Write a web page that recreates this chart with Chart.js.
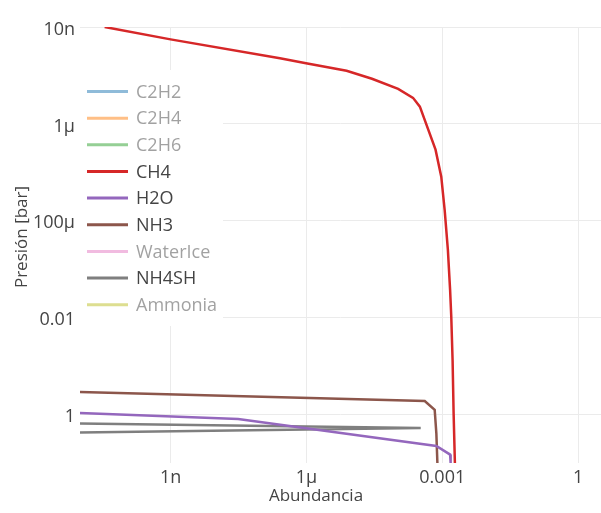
<!DOCTYPE html>
<html>
<head>
<meta charset="utf-8">
<script src="https://cdn.jsdelivr.net/npm/chart.js"></script>
<style>
  html, body { margin: 0; padding: 0; background: #fff; }
  #wrap { width: 601px; height: 513px; }
</style>
</head>
<body>
<div id="wrap"><canvas id="myChart" width="601" height="513"></canvas></div>
<script>
"use strict";
// species shown in the legend, in order
const species = ["C2H2", "C2H4", "C2H6", "CH4", "H2O", "NH3", "WaterIce", "NH4SH", "Ammonia"];
const speciesColors = ["#1f77b4", "#ff7f0e", "#2ca02c", "#d62728", "#9467bd", "#8c564b", "#e377c2", "#7f7f7f", "#bcbd22"];
const hiddenSpecies = ["C2H2", "C2H4", "C2H6", "WaterIce", "Ammonia"];

// abundance (x) and pressure in bar (y) for each profile
const ch4Abund = [3.5e-11, 1.0e-9, 2.6e-7, 9.8e-7, 7.7e-6, 2.8e-5, 1.06e-4, 2.26e-4, 3.2e-4, 7.1e-4, 9.5e-4, 1.13e-3, 1.33e-3, 1.49e-3, 1.58e-3, 1.69e-3, 1.78e-3, 1.90e-3];
const ch4Press = [1.0e-8, 1.8e-8, 4.4e-8, 5.6e-8, 8.0e-8, 1.17e-7, 1.9e-7, 2.9e-7, 4.4e-7, 3.4e-6, 1.23e-5, 6.0e-5, 4.0e-4, 2.7e-3, 9.6e-3, 0.0755, 0.94, 10];
const h2oAbund = [1e-11, 3.1e-8, 7.4e-4, 1.49e-3, 1.53e-3];
const h2oPress = [0.93, 1.24, 4.46, 6.7, 10];
const nh3Abund = [1e-11, 4.1e-4, 6.8e-4, 7.4e-4, 7.8e-4];
const nh3Press = [0.341, 0.524, 0.796, 2.44, 10];
const nh4shAbund = [1e-11, 3.34e-4, 1e-11];
const nh4shPress = [1.53, 1.89, 2.36];

const xTicks = [1e-9, 1e-6, 1e-3, 1];
const xTickLabels = ["1n", "1μ", "0.001", "1"];
const yTicks = [1e-8, 1e-6, 1e-4, 1e-2, 1];
const yTickLabels = ["10n", "1μ", "100μ", "0.01", "1"];

const profiles = {
  CH4: [ch4Abund, ch4Press],
  H2O: [h2oAbund, h2oPress],
  NH3: [nh3Abund, nh3Press],
  NH4SH: [nh4shAbund, nh4shPress]
};

function toPoints(name) {
  if (!profiles[name]) return [];
  const [xs, ys] = profiles[name];
  return xs.map((x, i) => ({ x: x, y: ys[i] }));
}

const datasets = species.map((name, i) => ({
  label: name,
  data: toPoints(name),
  borderColor: speciesColors[i],
  backgroundColor: speciesColors[i],
  borderWidth: 2.5,
  pointRadius: 0,
  tension: 0,
  fill: false,
  hidden: hiddenSpecies.includes(name)
}));

const FONT = "'Open Sans', 'DejaVu Sans', sans-serif";
const TEXT = "#444";

function fade(hex) {
  const n = parseInt(hex.slice(1), 16);
  return `rgba(${n >> 16},${(n >> 8) & 255},${n & 255},0.5)`;
}

// legend inside the plot plus the two axis titles
const overlay = {
  id: "overlay",
  afterDraw(chart) {
    const c = chart.ctx;
    c.save();
    c.fillStyle = "#fff";
    c.fillRect(80, 70, 143, 256);
    c.font = "18px " + FONT;
    c.textBaseline = "middle";
    c.textAlign = "left";
    chart.data.datasets.forEach((ds, i) => {
      const y = 91.5 + i * 26.65;
      const off = ds.hidden;
      c.strokeStyle = off ? fade(ds.borderColor) : ds.borderColor;
      c.lineWidth = 3;
      c.beginPath();
      c.moveTo(87, y);
      c.lineTo(128, y);
      c.stroke();
      c.fillStyle = off ? "rgba(68,68,68,0.5)" : TEXT;
      c.fillText(ds.label, 136, y + 1);
    });

    c.font = "17px " + FONT;
    c.fillStyle = TEXT;
    c.textAlign = "center";
    c.fillText("Abundancia", 316, 496);
    c.translate(22, 237);
    c.rotate(-Math.PI / 2);
    c.fillText("Presión [bar]", 0, 0);
    c.restore();
  }
};

const ctx = document.getElementById("myChart");
const myChart = new Chart(ctx, {
  type: "line",
  data: { datasets: datasets },
  options: {
    responsive: false,
    animation: false,
    layout: { padding: { top: 27, right: 0, left: 0, bottom: 0 } },
    plugins: {
      legend: { display: false },
      tooltip: { enabled: false }
    },
    scales: {
      x: {
        type: "logarithmic",
        min: 1e-11,
        max: 3.2,
        border: { display: false },
        grid: { color: "#ebebeb", lineWidth: 1, drawTicks: false },
        ticks: {
          color: TEXT,
          font: { family: FONT, size: 18 },
          padding: 4,
          maxRotation: 0,
          autoSkip: false,
          callback: (v) => xTickLabels[xTicks.indexOf(v)] ?? ""
        },
        afterBuildTicks: (scale) => { scale.ticks = xTicks.map(v => ({ value: v })); },
        afterFit: (scale) => { scale.height = 50; }
      },
      y: {
        type: "logarithmic",
        reverse: true,
        min: 1e-8,
        max: 10,
        border: { display: false },
        grid: { color: "#ebebeb", lineWidth: 1, drawTicks: false },
        ticks: {
          color: TEXT,
          font: { family: FONT, size: 18 },
          padding: 5,
          labelOffset: 2.5,
          autoSkip: false,
          callback: (v) => yTickLabels[yTicks.indexOf(v)] ?? ""
        },
        afterBuildTicks: (scale) => { scale.ticks = yTicks.map(v => ({ value: v })); },
        afterFit: (scale) => { scale.width = 80; }
      }
    }
  },
  plugins: [overlay]
});
</script>
</body>
</html>
